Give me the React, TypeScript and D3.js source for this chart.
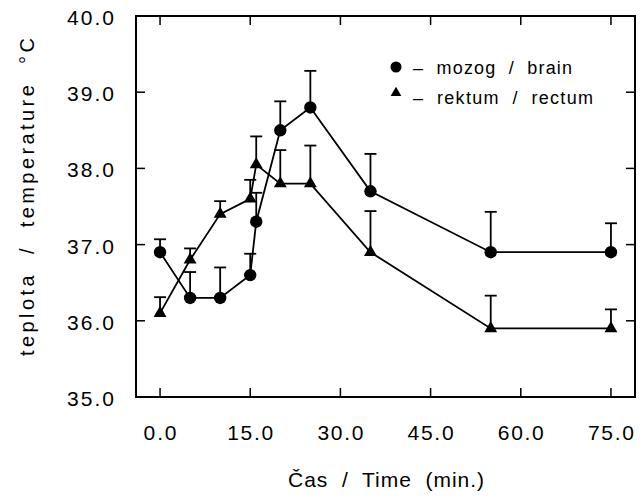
import React from "react";
import * as d3 from "d3";

const times = [0, 5, 10, 15, 16, 20, 25, 35, 55, 75];
const brain = [36.9, 36.3, 36.3, 36.6, 37.3, 38.5, 38.8, 37.7, 36.9, 36.9];
const brainErr = [0.17, 0.34, 0.4, 0.28, 0.38, 0.38, 0.48, 0.49, 0.53, 0.38];
const rectum = [36.1, 36.8, 37.4, 37.6, 38.05, 37.8, 37.8, 36.9, 35.9, 35.9];
const rectumErr = [0.21, 0.15, 0.17, 0.25, 0.37, 0.44, 0.5, 0.54, 0.43, 0.25];
const xTicks = [0, 15, 30, 45, 60, 75];
const yTicks = [35, 36, 37, 38, 39, 40];
const legendLabels = ["–  mozog  /  brain", "–  rektum  /  rectum"];
const xTitle = "Čas  /  Time  (min.)";
const yTitle = "teplota  /  temperature  °C";

const W = 644;
const H = 500;
const FONT = "'Liberation Sans', Arial, sans-serif";

export default function App() {
  const x = d3.scaleLinear().domain([-4, 79]).range([136, 635]);
  const y = d3.scaleLinear().domain([35, 40]).range([397, 16]);
  const [x0, x1] = x.range();
  const [y0, y1] = y.range();
  const line = d3
    .line<number>()
    .x((_, i) => x(times[i]))
    .y((d) => y(d));
  const tri = d3.symbol().type(d3.symbolTriangle).size(72);
  const triSmall = d3.symbol().type(d3.symbolTriangle).size(50);
  const tickLen = 9;
  const cap = 6;
  const pre = { whiteSpace: "pre" as const };

  const errBars = (vals: number[], errs: number[], key: string) =>
    vals.map((v, i) => {
      const cx = x(times[i]);
      const top = y(v + errs[i]);
      return (
        <g key={key + i}>
          <line x1={cx} x2={cx} y1={y(v)} y2={top} stroke="#000" strokeWidth={1.8} />
          <line x1={cx - cap} x2={cx + cap} y1={top} y2={top} stroke="#000" strokeWidth={1.8} />
        </g>
      );
    });

  return (
    <svg
      width={W}
      height={H}
      style={{ position: "absolute", left: 0, top: 0, background: "#fff" }}
      fontFamily={FONT}
    >
      <rect x={0} y={0} width={W} height={H} fill="#fff" />
      <rect x={x0} y={y1} width={x1 - x0} height={y0 - y1} fill="none" stroke="#000" strokeWidth={2} />
      {xTicks.map((t) => (
        <g key={"xt" + t}>
          <line x1={x(t)} x2={x(t)} y1={y0} y2={y0 - tickLen} stroke="#000" strokeWidth={1.5} />
          <line x1={x(t)} x2={x(t)} y1={y1} y2={y1 + tickLen} stroke="#000" strokeWidth={1.5} />
          <text
            x={x(t)}
            y={440}
            textAnchor="middle"
            fontSize={21}
            textLength={t === 0 ? 33 : 46}
            lengthAdjust="spacing"
          >
            {t.toFixed(1)}
          </text>
        </g>
      ))}
      {yTicks.map((t) => (
        <g key={"yt" + t}>
          <line x1={x0} x2={x0 + tickLen} y1={y(t)} y2={y(t)} stroke="#000" strokeWidth={1.5} />
          <line x1={x1} x2={x1 - tickLen} y1={y(t)} y2={y(t)} stroke="#000" strokeWidth={1.5} />
          <text
            x={114}
            y={y(t) + 9}
            textAnchor="end"
            fontSize={21}
            textLength={47}
            lengthAdjust="spacing"
          >
            {t.toFixed(1)}
          </text>
        </g>
      ))}
      <text x={386} y={487} textAnchor="middle" fontSize={21} textLength={196} lengthAdjust="spacing" style={pre}>
        {xTitle}
      </text>
      <text
        transform="translate(34,197) rotate(-90)"
        textAnchor="middle"
        fontSize={20}
        textLength={318}
        lengthAdjust="spacing"
        style={pre}
      >
        {yTitle}
      </text>
      <path d={line(brain) || ""} fill="none" stroke="#000" strokeWidth={1.8} />
      <path d={line(rectum) || ""} fill="none" stroke="#000" strokeWidth={1.8} />
      {errBars(brain, brainErr, "be")}
      {errBars(rectum, rectumErr, "re")}
      {brain.map((v, i) => (
        <circle key={"bm" + i} cx={x(times[i])} cy={y(v)} r={6.2} fill="#000" />
      ))}
      {rectum.map((v, i) => (
        <path
          key={"rm" + i}
          d={tri() || ""}
          transform={`translate(${x(times[i])},${y(v)})`}
          fill="#000"
        />
      ))}
      <circle cx={396} cy={67} r={5.5} fill="#000" />
      <text x={413} y={74} fontSize={18} textLength={159} lengthAdjust="spacing" style={pre}>
        {legendLabels[0]}
      </text>
      <path d={triSmall() || ""} transform="translate(396,93)" fill="#000" />
      <text x={413} y={104} fontSize={18} textLength={180} lengthAdjust="spacing" style={pre}>
        {legendLabels[1]}
      </text>
    </svg>
  );
}
